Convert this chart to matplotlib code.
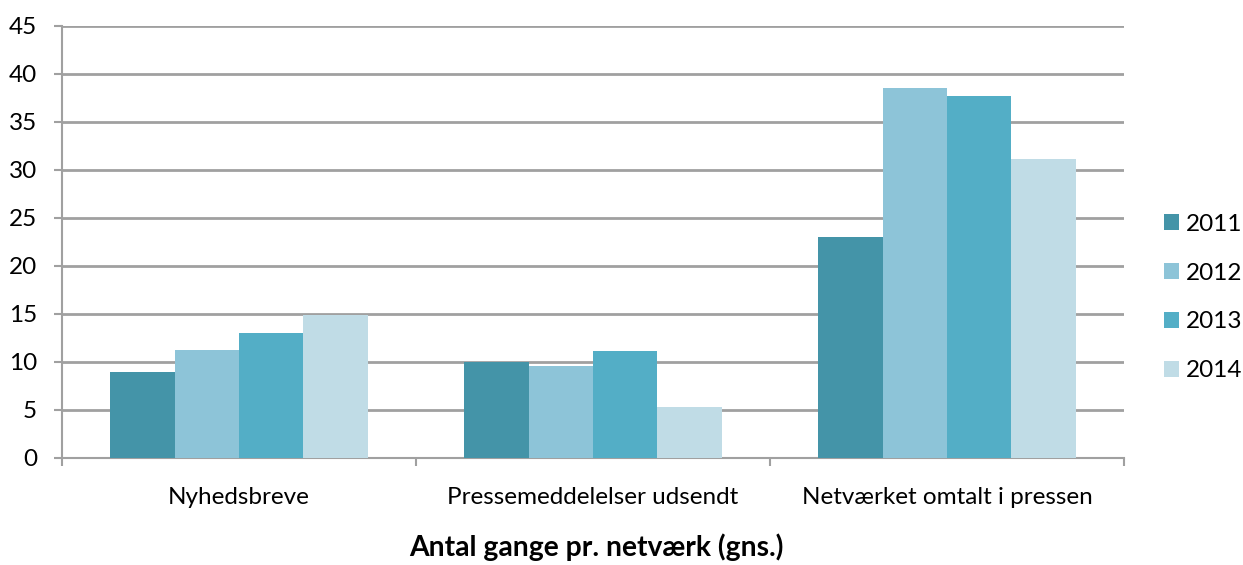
import matplotlib
matplotlib.use("Agg")
import matplotlib.pyplot as plt
import numpy as np

categories = ["Nyhedsbreve", "Pressemeddelelser udsendt", "Netværket omtalt i pressen"]
years = ["2011", "2012", "2013", "2014"]
values = {
    "2011": [9.0, 10.0, 23.0],
    "2012": [11.2, 9.6, 38.5],
    "2013": [13.0, 11.1, 37.7],
    "2014": [14.9, 5.3, 31.1],
}
colors = ["#4494A8", "#8DC4D8", "#53AEC6", "#C0DCE6"]
yticks = [0, 5, 10, 15, 20, 25, 30, 35, 40, 45]
xlabel = "Antal gange pr. netværk (gns.)"

plt.rcParams['font.family'] = ['Lato', 'DejaVu Sans']

W, H = 1243, 565
fig = plt.figure(figsize=(W / 100, H / 100), dpi=100)
ax = fig.add_axes([62 / W, 1 - 458 / H, (1124 - 62) / W, (458 - 26) / H])

n = len(years)
bw = 1 / (n + 1.5)
x = np.arange(len(categories)) + 0.5
for i, (yr, c) in enumerate(zip(years, colors)):
    ax.bar(x + (i - (n - 1) / 2) * bw, values[yr], width=bw, color=c, label=yr,
           zorder=3, edgecolor='none')

ax.set_xlim(0, len(categories))
ax.set_ylim(0, 45)
ax.set_yticks(yticks)
ax.set_yticklabels([str(t) for t in yticks])
ax.yaxis.grid(True, color="#A0A0A0", linewidth=2, zorder=0)
ax.set_axisbelow(True)

fs = 17.5
ax.set_xticks(np.arange(len(categories) + 1))
ax.set_xticklabels([])
ax.set_xticks(x, minor=True)
ax.set_xticklabels(categories, minor=True)
ax.tick_params(axis='x', which='minor', length=0, pad=21, labelsize=fs)
ax.tick_params(axis='x', which='major', length=6, width=1.5, color="#A0A0A0", direction='out')
ax.tick_params(axis='y', length=6, width=1.5, color="#A0A0A0", labelsize=fs, pad=12)

for s in ['top', 'right']:
    ax.spines[s].set_visible(False)
for s in ['left', 'bottom']:
    ax.spines[s].set_color("#A0A0A0")
    ax.spines[s].set_linewidth(1.5)

fig.text(596 / W, 1 - 556 / H, xlabel, fontsize=20.3, fontweight='bold',
         ha='center', va='baseline')

leg = ax.legend(loc='center left', bbox_to_anchor=(1164 / W, 1 - 297.5 / H),
                bbox_transform=fig.transFigure, borderaxespad=0, borderpad=0,
                frameon=False, fontsize=fs, handlelength=0.62, handleheight=0.62,
                handletextpad=0.3, labelspacing=1.15)

fig.savefig("out.png", dpi=100)
